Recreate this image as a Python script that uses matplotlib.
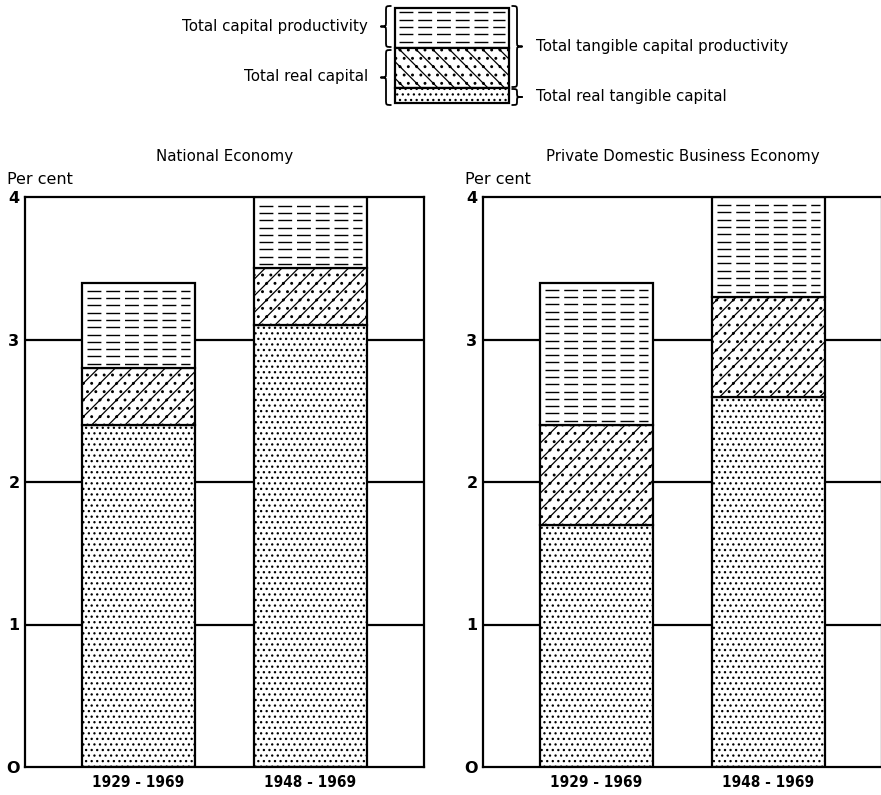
import matplotlib
matplotlib.use('Agg')
import matplotlib.pyplot as plt
from matplotlib.patches import Rectangle, PathPatch
from matplotlib.path import Path

# data (per cent per annum)
periods = ['1929 - 1969', '1948 - 1969']
panel_titles = ['National Economy', 'Private Domestic Business Economy']

national_real_tangible = [2.4, 3.1]
national_real_capital = [2.8, 3.5]
national_total = [3.4, 4.0]

private_real_tangible = [1.7, 2.6]
private_real_capital = [2.4, 3.3]
private_total = [3.4, 4.0]

yticks = [0, 1, 2, 3, 4]
ytick_labels = ['O', '1', '2', '3', '4']

plt.rcParams['font.family'] = ['DejaVu Sans']
plt.rcParams['hatch.linewidth'] = 0.9
plt.rcParams['hatch.color'] = 'black'

W, H = 881, 795
fig = plt.figure(figsize=(W / 100, H / 100), dpi=100)

BAR_W = 0.66
DOTS = '...'
MID_HATCH = '//..'
DASH_STEP = 0.051
TXT = 10.8


def px_axes(left, bottom_px, width, height):
    # pixel box -> figure fraction
    return [left / W, 1 - bottom_px / H, width / W, height / H]


def dashed_fill(ax, x0, x1, y0, y1, step):
    ys = []
    y = y0 + step * 0.6
    while y < y1 - step * 0.3:
        ys.append(y)
        y += step
    ax.hlines(ys, x0, x1, colors='black', linewidth=1.0,
              linestyles=(0, (10, 3.5)), zorder=4)


def draw_panel(ax, title, tangible, real, total):
    xs = list(range(len(periods)))
    mid = [r - t for r, t in zip(real, tangible)]
    top = [t - r for t, r in zip(total, real)]

    for y in [1, 2, 3]:
        ax.axhline(y, color='black', lw=1.6, zorder=1)

    ax.bar(xs, tangible, BAR_W, color='white', edgecolor='black',
           hatch=DOTS, lw=1.6, zorder=3)
    ax.bar(xs, mid, BAR_W, bottom=tangible, color='white', edgecolor='black',
           hatch=MID_HATCH, lw=1.6, zorder=3)
    ax.bar(xs, top, BAR_W, bottom=real, color='white', edgecolor='black',
           lw=1.6, zorder=3)
    for x, r, t in zip(xs, real, total):
        dashed_fill(ax, x - BAR_W / 2 + 0.03, x + BAR_W / 2 - 0.03, r, t,
                    DASH_STEP)

    ax.set_xlim(-0.66, 1.66)
    ax.set_ylim(0, 4)
    ax.set_yticks(yticks)
    ax.set_yticklabels(ytick_labels, fontsize=11.5, fontweight='bold')
    ax.set_xticks(xs)
    ax.set_xticklabels(periods, fontsize=11, fontweight='bold',
                       fontstretch='condensed')
    ax.tick_params(axis='y', length=0, pad=4)
    ax.tick_params(axis='x', length=0, pad=6)
    for s in ax.spines.values():
        s.set_linewidth(1.6)
        s.set_zorder(5)
    ax.set_title(title, fontsize=TXT, pad=26)
    ax.text(-0.045, 1.03, 'Per cent', transform=ax.transAxes, fontsize=11.5,
            va='center', ha='left')


ax1 = fig.add_axes(px_axes(25, 767, 399, 570))
ax2 = fig.add_axes(px_axes(483, 767, 399, 570))
draw_panel(ax1, panel_titles[0], national_real_tangible,
           national_real_capital, national_total)
draw_panel(ax2, panel_titles[1], private_real_tangible,
           private_real_capital, private_total)

# legend drawn in pixel coordinates on an overlay axes
lg = fig.add_axes([0, 0, 1, 1], facecolor='none')
lg.set_xlim(0, W)
lg.set_ylim(H, 0)
lg.axis('off')

bx0, bx1 = 395, 509
sections = [(8, 48, None), (48, 88, '\\\\..'), (88, 103, DOTS)]
for y0, y1, hatch in sections:
    lg.add_patch(Rectangle((bx0, y0), bx1 - bx0, y1 - y0, facecolor='white',
                           edgecolor='black', lw=1.6, hatch=hatch, zorder=3))
dashed_fill(lg, bx0 + 4, bx1 - 4, 8, 48, 7.3)


def brace(ax, xb, y0, y1, side, w=11):
    # side=-1 -> '{' (tip left), side=+1 -> '}' (tip right)
    ym = (y0 + y1) / 2
    xe = xb - side * w / 2
    xt = xb + side * w / 2
    r = min(5, (y1 - y0) / 4)
    verts = [(xe, y0), (xb, y0), (xb, y0), (xb, y0 + r),
             (xb, ym - r),
             (xb, ym), (xb, ym), (xt, ym),
             (xb, ym), (xb, ym), (xb, ym + r),
             (xb, y1 - r),
             (xb, y1), (xb, y1), (xe, y1)]
    codes = [Path.MOVETO, Path.CURVE4, Path.CURVE4, Path.CURVE4,
             Path.LINETO,
             Path.CURVE4, Path.CURVE4, Path.CURVE4,
             Path.CURVE4, Path.CURVE4, Path.CURVE4,
             Path.LINETO,
             Path.CURVE4, Path.CURVE4, Path.CURVE4]
    ax.add_patch(PathPatch(Path(verts, codes), facecolor='none',
                           edgecolor='black', lw=1.3))


brace(lg, 386, 6, 47, -1)
brace(lg, 386, 50, 105, -1)
brace(lg, 517, 6, 87, 1)
brace(lg, 517, 89, 105, 1)

lg.text(368, 27, 'Total capital productivity', ha='right', va='center',
        fontsize=TXT)
lg.text(368, 77, 'Total real capital', ha='right', va='center', fontsize=TXT)
lg.text(536, 47, 'Total tangible capital productivity', ha='left',
        va='center', fontsize=TXT)
lg.text(536, 97, 'Total real tangible capital', ha='left', va='center',
        fontsize=TXT)

fig.savefig('out.png', dpi=100)
